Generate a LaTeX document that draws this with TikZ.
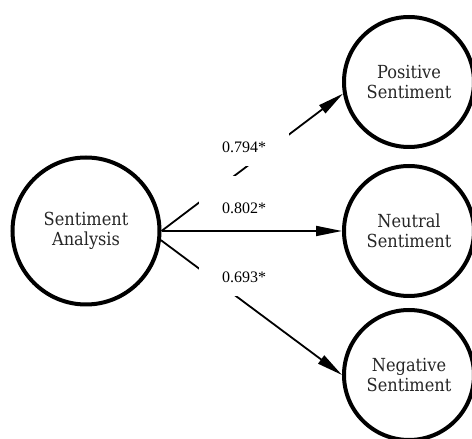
\documentclass[tikz,border=0pt]{standalone}
\usepackage{fontspec}
\setmainfont{DejaVu Serif Condensed}
\newfontfamily\wfont{Liberation Serif}
\usetikzlibrary{arrows.meta}

\begin{document}
\begin{tikzpicture}[
    x=1pt, y=1pt,
    >={Triangle[length=26pt, width=10pt]},   % arrow tip style
    bignode/.style={circle, draw, line width=4pt, minimum size=147pt, inner sep=0pt,
        align=center, text=black!85, font=\fontsize{18}{20}\selectfont},
    smallnode/.style={bignode, minimum size=130pt},
    wlabel/.style={fill=white, inner sep=0pt, minimum width=90pt, text height=37.5pt,
        text depth=13.5pt, anchor=base, font=\wfont\fontsize{16}{18}\selectfont}]
    \useasboundingbox (0,0) rectangle (472,439);
    % Nodes
    \node[bignode] (SA) at (86,208) {Sentiment\\Analysis};
    \node[smallnode] (Neu) at (409,208) {Neutral\\Sentiment};
    \node[smallnode] (Pos) [above of=Neu, node distance=149pt] {Positive\\Sentiment};
    \node[smallnode] (Neg) [below of=Neu, node distance=144pt] {Negative\\Sentiment};

    % Directed edges
    \draw[->, line width=1.8pt] (SA.east) -- (Pos.190);
    \draw[->, line width=1.8pt] (SA.east) -- (Neu.west);
    \draw[->, line width=1.8pt] (SA.-7) -- (Neg.west);

    % Weights
    \node[wlabel] (wPos) at (244,286) {0.794*};
    \node[wlabel] (wNeu) at (244,225) {0.802*};
    \node[wlabel] (wNeg) at (244,156) {0.693*};
\end{tikzpicture}
\end{document}
